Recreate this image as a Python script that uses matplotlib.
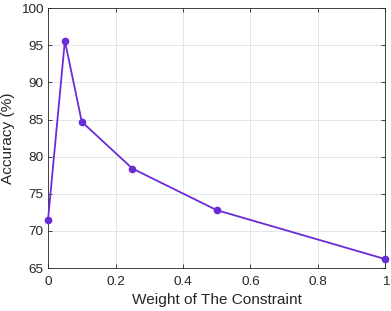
import matplotlib
matplotlib.use("Agg")
import matplotlib.pyplot as plt

plt.rcParams["font.family"] = ["Liberation Sans", "DejaVu Sans"]

weights = [0, 0.05, 0.1, 0.25, 0.5, 1.0]
accuracy = [71.5, 95.6, 84.7, 78.4, 72.8, 66.2]
xticks = [0, 0.2, 0.4, 0.6, 0.8, 1]
xticklabels = ["0", "0.2", "0.4", "0.6", "0.8", "1"]
yticks = [65, 70, 75, 80, 85, 90, 95, 100]

fig = plt.figure(figsize=(3.91, 3.11), dpi=100)
ax = fig.add_axes([0.1228, 0.138, 0.863, 0.836])
ax.plot(weights, accuracy, color="#6A2BD9", lw=1.3, marker="o", ms=4.5, clip_on=False, zorder=3)
ax.set_xlim(0, 1)
ax.set_ylim(65, 100)
ax.set_xticks(xticks)
ax.set_xticklabels(xticklabels)
ax.set_yticks(yticks)
ax.grid(True, color="#e6e6e6", lw=0.7)
ax.set_axisbelow(True)
ax.tick_params(direction="in", length=3, width=0.6, labelsize=9.7, colors="#262626", top=True, right=True)
ax.tick_params(axis="x", pad=5.5)
ax.tick_params(axis="y", pad=3.5)
for s in ax.spines.values():
    s.set_color("#262626")
    s.set_linewidth(0.6)
ax.set_xlabel("Weight of The Constraint", fontsize=11.1, color="#262626", labelpad=4)
ax.set_ylabel("Accuracy (%)", fontsize=11.1, color="#262626", labelpad=4)
fig.savefig("out.png", dpi=100)
plt.close(fig)
